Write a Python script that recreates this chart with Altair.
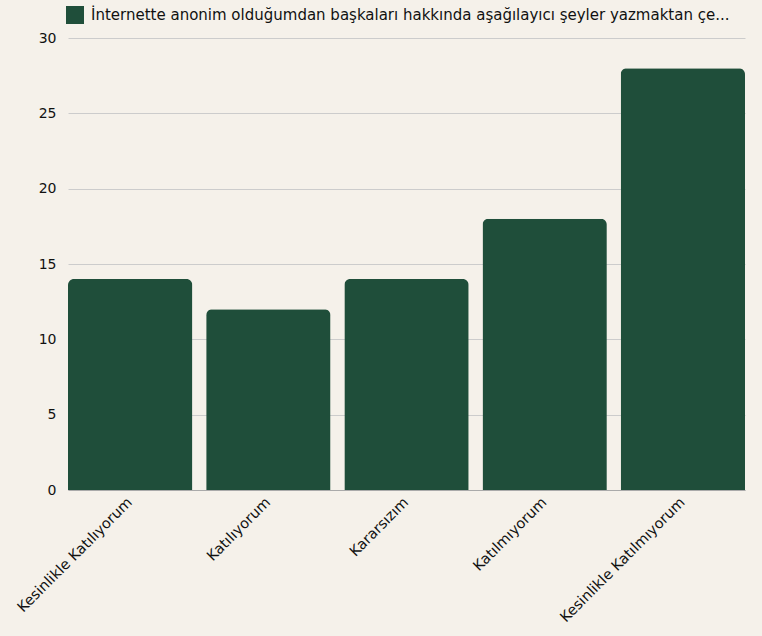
import altair as alt
import pandas as pd

categories = ["Kesinlikle Katılıyorum", "Katılıyorum", "Kararsızım", "Katılmıyorum", "Kesinlikle Katılmıyorum"]
values = [14, 12, 14, 18, 28]
series = "İnternette anonim olduğumdan başkaları hakkında aşağılayıcı şeyler yazmaktan çe..."

df = pd.DataFrame({"cat": categories, "val": values, "series": [series] * len(categories)})

FONT = "DejaVu Sans"

chart = alt.Chart(df).mark_bar(
    cornerRadiusTopLeft=6, cornerRadiusTopRight=6
).encode(
    x=alt.X("cat:N", sort=categories, title=None,
            scale=alt.Scale(paddingInner=0.1, paddingOuter=0.0),
            axis=alt.Axis(labelAngle=-45, labelAlign="right", labelBaseline="middle",
                          labelFontSize=14.5, labelColor="#111", labelFont=FONT,
                          ticks=False, domainColor="#aaaaaa", labelPadding=10,
                          labelLimit=300)),
    y=alt.Y("val:Q", title=None,
            scale=alt.Scale(domain=[0, 30]),
            axis=alt.Axis(values=[0, 5, 10, 15, 20, 25, 30], labelFontSize=14,
                          labelColor="#111", labelFont=FONT, domain=False, ticks=False,
                          gridColor="#cccccc", labelPadding=12)),
    color=alt.Color("series:N", scale=alt.Scale(range=["#1f4e3a"]),
                    legend=alt.Legend(title=None, orient="none", legendX=-2, legendY=-32,
                                      symbolType="square", symbolSize=324,
                                      symbolStrokeWidth=0, labelFontSize=15,
                                      labelFont=FONT, labelColor="#111",
                                      labelOffset=7, labelLimit=700)),
).properties(
    width=677, height=452,
    background="#f5f1ea",
    padding={"left": 68, "top": 38, "right": 17, "bottom": 146},
    autosize=alt.AutoSizeParams(type="none"),
).configure_view(stroke=None)

chart.save("out.html", embed_options={"renderer": "svg", "actions": False})
